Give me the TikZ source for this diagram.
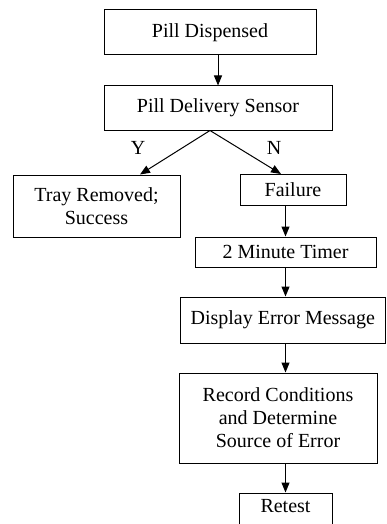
\documentclass[tikz,border=0pt]{standalone}
\usepackage{fontspec}
\setmainfont{Liberation Serif}
\usetikzlibrary{arrows.meta}
\begin{document}
\begin{tikzpicture}[x=1pt,y=-1pt,
  box/.style={draw=black, line width=1pt, rectangle, inner sep=0pt, align=center, font=\fontsize{20}{23}\selectfont},
  lbl/.style={font=\fontsize{20}{23}\selectfont, inner sep=0pt},
  arr/.style={line width=1pt, -{Triangle[length=10pt,width=8pt]}}]
\useasboundingbox (0,0) rectangle (386,524);
\node[box, minimum width=212pt, minimum height=45pt] (disp) at (210,32.5) {Pill Dispensed};
\node[box, minimum width=228pt, minimum height=44pt] (sens) at (218,108) {Pill Delivery Sensor};
\node[box, minimum width=167pt, minimum height=62pt] (tray) at (96.5,206) {Tray Removed;\\Success};
\node[box, minimum width=106pt, minimum height=31pt] (fail) at (293,190) {Failure};
\node[box, minimum width=181pt, minimum height=30pt] (timer) at (285.5,252) {2 Minute Timer};
\node[box, minimum width=205pt, minimum height=46pt] (disperr) at (282.8,320) {Display Error Message};
\node[box, minimum width=198pt, minimum height=90pt] (rec) at (278,418) {Record Conditions\\and Determine\\Source of Error};
\node[box, minimum width=93pt, minimum height=36pt, text height=13.3pt, text depth=11pt] (retest) at (285.5,511) {Retest};
\node[lbl] (ylab) at (138,148) {Y};
\node[lbl] (nlab) at (274,148) {N};
\draw[arr] (disp.south -| sens.north) -- (sens.north);
\draw[arr] ([xshift=-8pt]sens.south) -- ([xshift=43.5pt]tray.north);
\draw[arr] ([xshift=-8pt]sens.south) -- ([xshift=-12pt]fail.north);
\draw[arr] (fail.south -| timer.north) -- (timer.north);
\draw[arr] (timer.south) -- (timer.south |- disperr.north);
\draw[arr] (timer.south |- disperr.south) -- (timer.south |- rec.north);
\draw[arr] (timer.south |- rec.south) -- (retest.north);
\end{tikzpicture}
\end{document}
